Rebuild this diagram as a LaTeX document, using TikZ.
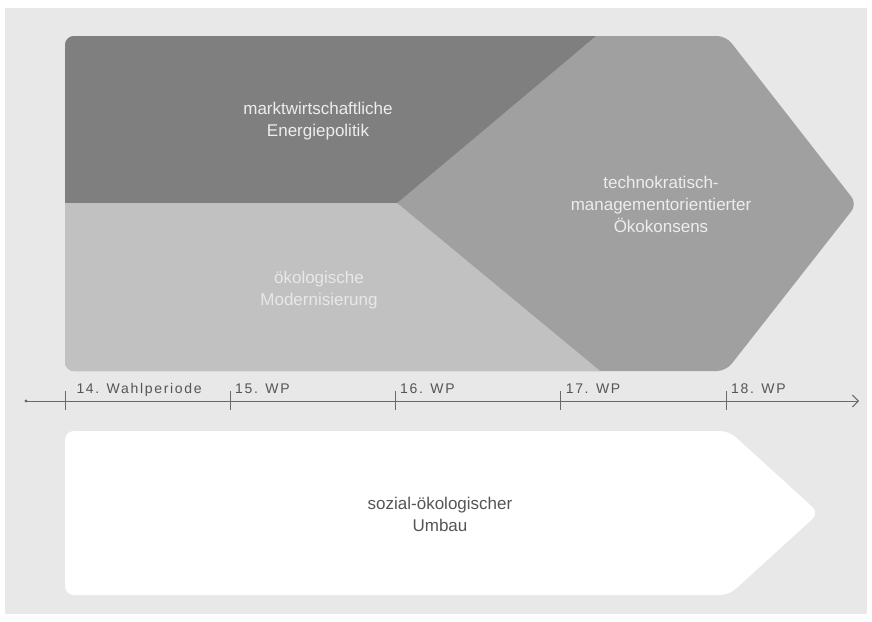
\documentclass[tikz,border=0pt]{standalone}
\usepackage{fontspec}
\setmainfont{Liberation Sans}
\newfontfamily\wpfont[LetterSpace=12]{Liberation Sans}
\usetikzlibrary{arrows.meta}
\definecolor{bgc}{HTML}{E8E8E8}
\definecolor{dkc}{HTML}{7F7F7F}
\definecolor{mdc}{HTML}{A0A0A0}
\definecolor{ltc}{HTML}{C1C1C1}
\definecolor{axc}{HTML}{6A6A6A}
\definecolor{wpc}{HTML}{555555}
\tikzset{
  bigtext/.style={align=center, inner sep=0pt, font=\fontsize{17}{22}\selectfont},
  wplabel/.style={anchor=base west, inner sep=0pt, text=wpc, font=\wpfont\fontsize{14}{16}\selectfont},
  axisline/.style={draw=axc, line width=1pt},
  tickline/.style={draw=axc, line width=0.9pt},
}
\begin{document}
\begin{tikzpicture}[x=1pt,y=-1pt]
\useasboundingbox (0,0) rectangle (872,621);
\fill[white] (0,0) rectangle (872,621);
\fill[bgc] (5,8) rectangle (867,614);

% upper arrow shape with three regions
\begin{scope}
  \clip[rounded corners=9pt] (65,36) -- (726,36) -- (857,204) -- (726,371) -- (65,371) -- cycle;
  \fill[mdc] (0,0) rectangle (872,400);
  \fill[dkc] (60,30) -- (603,30) -- (397,203) -- (60,203) -- cycle;
  \fill[ltc] (60,203) -- (397,203) -- (611,380) -- (60,380) -- cycle;
\end{scope}

\node[bigtext, text=white!93!black] (markt) at (318,121.6) {marktwirtschaftliche\\Energiepolitik};
\node[bigtext, text=white!91!black] (oeko) at (319,289.6) {ökologische\\Modernisierung};
\node[bigtext, text=white!93!black] (techno) at (661,204) {technokratisch-\\managementorientierter\\Ökokonsens};

% timeline
\coordinate (tl0) at (26,401);
\coordinate (tlend) at (859,401);
\draw[axisline, -{Straight Barb[length=6pt,width=12pt,line width=1pt]}] (tl0) -- (tlend);
\fill[axc] (tl0) circle (1.7);
\foreach \x in {65,230,395,560,726}{
  \draw[tickline] (\x,391) -- (\x,410);
}
\node[wplabel] (wp14) at (76.3,393) {14. Wahlperiode};
\node[wplabel] (wp15) at (235.0,393) {15. WP};
\node[wplabel] (wp16) at (400.0,393) {16. WP};
\node[wplabel] (wp17) at (565.6,393) {17. WP};
\node[wplabel] (wp18) at (731.0,393) {18. WP};

% lower arrow shape
\fill[white, rounded corners=9pt] (65,431) -- (729,431) -- (819,513) -- (729,595) -- (65,595) -- cycle;
\node[bigtext, text=wpc] (umbau) at (440,514.8) {sozial-ökologischer\\Umbau};
\end{tikzpicture}
\end{document}
